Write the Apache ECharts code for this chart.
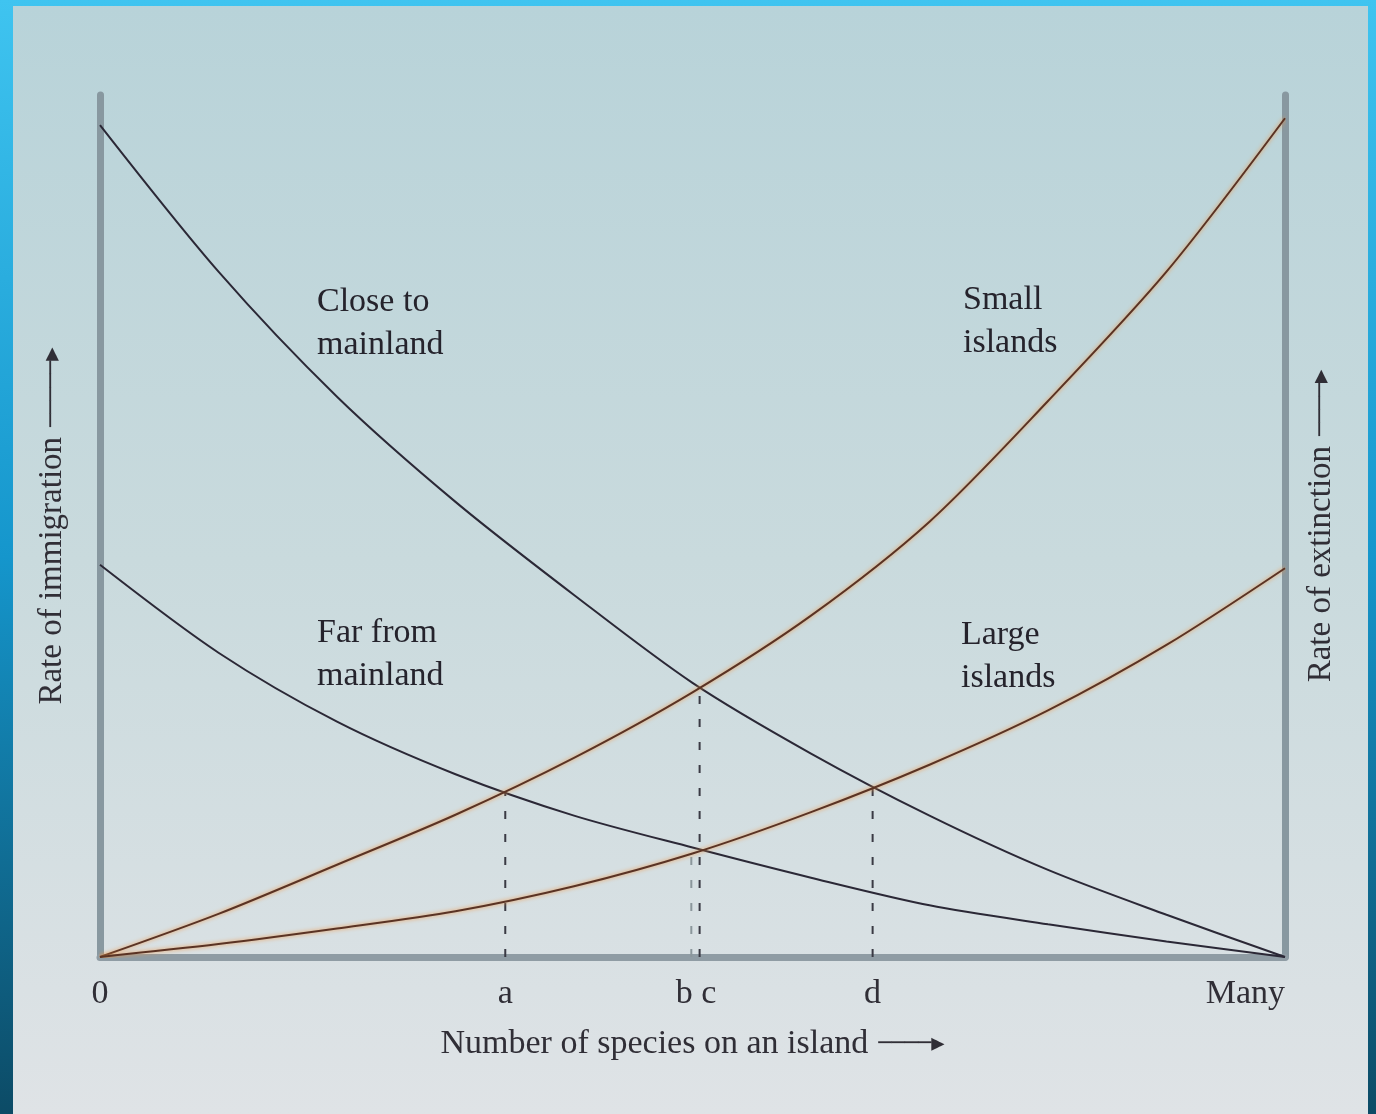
<!DOCTYPE html>
<html>
<head>
<meta charset="utf-8">
<title>Island biogeography</title>
<script src="https://cdn.jsdelivr.net/npm/echarts@6/dist/echarts.min.js"></script>
<style>
  html, body { margin: 0; padding: 0; }
  #main { width: 1376px; height: 1114px; }
</style>
</head>
<body>
<div id="main"></div>
<script>
  // number of species, 0 .. "Many" (100)
  const speciesX = [0, 10, 20, 30, 40, 50, 60, 70, 80, 90, 100];
  // immigration curves
  const closeToMainland = [96.5, 79.5, 65.0, 52.8, 42.0, 31.8, 23.6, 16.4, 10.1, 4.9, 0];
  const farFromMainland = [45.5, 35.3, 27.3, 21.2, 16.4, 12.7, 9.2, 6.0, 3.8, 1.8, 0];
  // extinction curves
  const smallIslands = [0, 5.0, 10.7, 16.5, 23.1, 30.7, 39.6, 50.5, 64.5, 79.5, 97.3];
  const largeIslands = [0, 1.5, 3.3, 5.3, 8.2, 12.0, 16.8, 22.3, 28.6, 36.2, 45.1];

  // equilibrium points (dashed drop lines)
  const eqNames = ['a', 'b', 'c', 'd'];
  const eqX = [34.2, 49.9, 50.6, 65.2];
  const eqY = [19.1, 12.3, 31.2, 19.8];

  // tick labels on the species axis
  const tickValues = [0, 34.2, 50.3, 65.2, 100];
  const tickLabels = ['0', 'a', 'b c', 'd', 'Many'];

  const serif = '"Liberation Serif", "DejaVu Serif", serif';
  const ink = '#302e36';

  function pairs(ys) {
    return speciesX.map((x, i) => [x, ys[i]]);
  }

  // axis title with a long drawn arrow after it
  function titleStyle(size) {
    return {
      fontFamily: serif, fontSize: size, color: ink,
      rich: {
        arr: { fontFamily: '"DejaVu Sans Mono"', fontSize: 22, color: ink, padding: [0, 0, 0, 10] }
      }
    };
  }
  const arrow = n => '{arr|' + '\u2500'.repeat(n) + '\u25B6}';

  const darkLine = { color: '#2b2836', width: 2 };
  const warmLine = { color: '#5a3324', width: 2, shadowColor: 'rgba(240,150,70,1)', shadowBlur: 4 };

  const series = [
    { name: 'Close to mainland', type: 'line', data: pairs(closeToMainland), lineStyle: darkLine },
    { name: 'Far from mainland', type: 'line', data: pairs(farFromMainland), lineStyle: darkLine },
    { name: 'Small islands', type: 'line', data: pairs(smallIslands), lineStyle: warmLine },
    { name: 'Large islands', type: 'line', data: pairs(largeIslands), lineStyle: warmLine }
  ].map(s => Object.assign(s, { smooth: 0.3, symbol: 'none', z: 5, silent: true }));

  eqNames.forEach((n, i) => {
    series.push({
      name: 'eq ' + n,
      type: 'line',
      data: [[eqX[i], 0], [eqX[i], eqY[i]]],
      symbol: 'none',
      z: 3,
      lineStyle: {
        color: n === 'b' ? '#8b979c' : '#3a3a44',
        width: 2,
        type: [8, 15]
      }
    });
  });

  const note = (text, left, top) => ({
    type: 'text', left: left, top: top, z: 10,
    style: { text: text, font: '34px ' + serif, fill: '#25232c', lineHeight: 43 }
  });

  const chart = echarts.init(document.getElementById('main'));
  chart.setOption({
    animation: false,
    backgroundColor: new echarts.graphic.LinearGradient(0, 0, 0, 1, [
      { offset: 0, color: '#3fc4f0' },
      { offset: 0.5, color: '#1596cc' },
      { offset: 1, color: '#0c4b66' }
    ]),
    graphic: [
      {
        type: 'rect', left: 13, top: 6, z: -100,
        shape: { width: 1355, height: 1108 },
        style: {
          fill: new echarts.graphic.LinearGradient(0, 0, 0, 1, [
            { offset: 0, color: '#b8d3d9' },
            { offset: 0.5, color: '#c9dadd' },
            { offset: 1, color: '#dfe3e6' }
          ])
        }
      },
      note('Close to\nmainland', 317, 281),
      note('Far from\nmainland', 317, 612),
      note('Small\nislands', 963, 279),
      note('Large\nislands', 961, 614)
    ],
    grid: { left: 100, right: 91, top: 95, bottom: 157 },
    xAxis: {
      type: 'value', min: 0, max: 100,
      splitLine: { show: false },
      axisTick: { show: false },
      axisLine: { lineStyle: { color: '#8f9ca4', width: 7 } },
      axisLabel: {
        customValues: tickValues,
        formatter: v => tickLabels[tickValues.indexOf(v)],
        alignMaxLabel: 'right',
        margin: 20,
        fontFamily: serif, fontSize: 34, color: ink
      },
      name: 'Number of species on an island' + arrow(4),
      nameLocation: 'middle',
      nameGap: 70,
      nameTextStyle: titleStyle(34)
    },
    yAxis: [
      {
        type: 'value', min: 0, max: 100,
        splitLine: { show: false },
        axisTick: { show: false },
        axisLabel: { show: false },
        axisLine: { lineStyle: { color: '#8898a0', width: 7 } },
        name: 'Rate of immigration' + arrow(5),
        nameLocation: 'middle', nameRotate: 90, nameGap: 31,
        nameTextStyle: titleStyle(33)
      },
      {
        type: 'value', min: 0, max: 100, position: 'right',
        splitLine: { show: false },
        axisTick: { show: false },
        axisLabel: { show: false },
        axisLine: { onZero: false, lineStyle: { color: '#8898a0', width: 7 } },
        name: 'Rate of extinction' + arrow(4),
        nameLocation: 'middle', nameRotate: 90, nameGap: 20,
        nameTextStyle: titleStyle(33)
      }
    ],
    series: series
  });
</script>
</body>
</html>
